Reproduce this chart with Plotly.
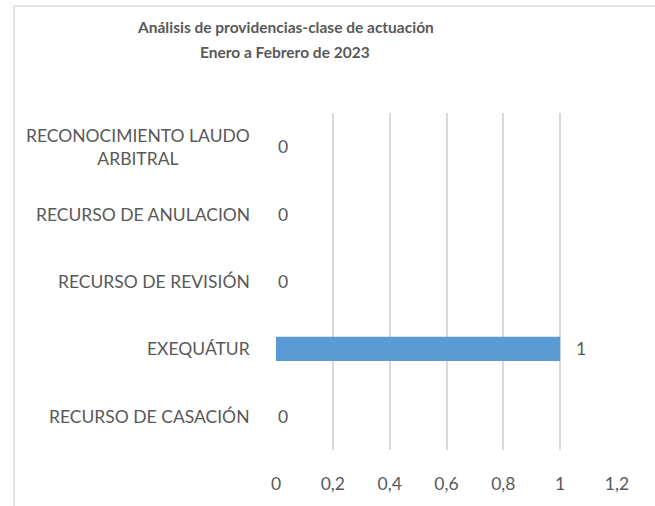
import plotly.graph_objects as go

categories = ["RECURSO DE CASACIÓN", "EXEQUÁTUR", "RECURSO DE REVISIÓN",
              "RECURSO DE ANULACION", "RECONOCIMIENTO LAUDO<br>ARBITRAL"]
values = [0, 1, 0, 0, 0]
x_tickvals = [0, 0.2, 0.4, 0.6, 0.8, 1.0, 1.2]
x_ticktext = ["0", "0,2", "0,4", "0,6", "0,8", "1", "1,2"]
title_lines = ["Análisis de providencias-clase de actuación", "Enero a Febrero de 2023"]

FONT = "Lato, Open Sans, sans-serif"
GREY = "#595959"

fig = go.Figure(go.Bar(
    y=categories, x=values, orientation="h",
    marker=dict(color="#5b9bd5", line=dict(width=0)),
    width=0.36,
    hoverinfo="skip",
))

L, R, T, B = 276, 38, 113, 56
W, H = 655, 506
pw, ph = W - L - R, H - T - B


def py2paper(py):
    return (H - B - py) / ph


def px2paper(px):
    return (px - L) / pw


annotations = []
# title (two lines, Excel-like spacing)
for line, ypix in zip(title_lines, [27, 52]):
    annotations.append(dict(
        x=px2paper(285), xref="paper", y=py2paper(ypix), yref="paper",
        text="<b>" + line + "</b>", showarrow=False,
        xanchor="center", yanchor="middle",
        font=dict(family=FONT, size=15.5, color=GREY)))
# category labels (centered multi-line)
for c in categories:
    annotations.append(dict(
        x=0, xref="paper", y=c, yref="y", text=c, showarrow=False,
        xanchor="right", yanchor="middle", align="center", xshift=-24,
        font=dict(family=FONT, size=17.5, color=GREY)))
# value labels
for c, v in zip(categories, values):
    annotations.append(dict(
        x=v, xref="x", y=c, yref="y", text=str(v), showarrow=False,
        xanchor="left", yanchor="middle", xshift=14 if v > 0 else 0,
        font=dict(family=FONT, size=17.5, color=GREY)))

border = dict(color="#d9d9d9", width=1.5)

fig.update_layout(
    width=W, height=H,
    margin=dict(l=L, r=R, t=T, b=B, autoexpand=False),
    paper_bgcolor="white", plot_bgcolor="white",
    xaxis=dict(range=[0, 1.2], tickvals=x_tickvals, ticktext=x_ticktext,
               showgrid=True, gridcolor="#d9d9d9", gridwidth=1.5,
               zeroline=False, showline=False, automargin=False,
               tickfont=dict(family=FONT, size=17.5, color=GREY),
               ticklabelstandoff=21, fixedrange=True),
    yaxis=dict(showgrid=False, zeroline=False, showline=False,
               showticklabels=False, automargin=False, fixedrange=True,
               range=[-0.5, 4.5]),
    showlegend=False,
    annotations=annotations,
    shapes=[
        dict(type="line", xref="paper", yref="paper",
             x0=px2paper(14), x1=px2paper(14), y0=py2paper(H + 5), y1=py2paper(6),
             line=border, layer="below"),
        dict(type="line", xref="paper", yref="paper",
             x0=px2paper(14), x1=px2paper(W + 5), y0=py2paper(6), y1=py2paper(6),
             line=border, layer="below"),
    ],
)

fig.write_html("out.html", config={"displayModeBar": False},
               post_script="document.body.style.margin='0';document.body.style.overflow='hidden';")
